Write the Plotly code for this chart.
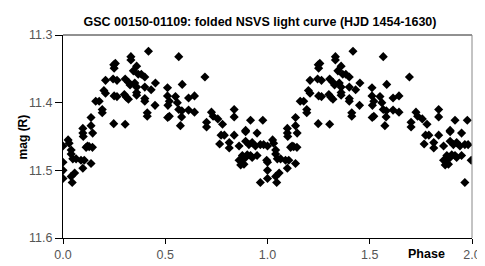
import plotly.graph_objects as go

# Folded light curve: phase (0..1) and R magnitude; plotted twice (phase and phase+1)
phase = [
    0.248, 0.250, 0.208, 0.245, 0.200, 0.208, 0.250, 0.160, 0.177, 0.192,
    0.192, 0.248, 0.137, 0.097, 0.097, 0.099, 0.137, 0.145, 0.120, 0.113,
    0.128, 0.144, 0.025, 0.030, 0.000, 0.040, 0.040, 0.048, 0.064, 0.088,
    0.104, 0.097, 0.137, 0.000, 0.000, 0.000, 0.040, 0.045, 0.057,
    0.418, 0.332, 0.332, 0.360, 0.344, 0.368, 0.383, 0.400, 0.264, 0.304,
    0.320, 0.328, 0.351, 0.360, 0.400, 0.431, 0.452, 0.264, 0.300, 0.310,
    0.320, 0.360, 0.360, 0.400, 0.400, 0.450, 0.412, 0.412, 0.304, 0.256,
    0.566, 0.694, 0.583, 0.511, 0.511, 0.520, 0.550, 0.614, 0.643, 0.566,
    0.581, 0.614, 0.643, 0.520, 0.580, 0.574, 0.726, 0.734, 0.757, 0.702,
    0.702, 0.780, 0.773, 0.766, 0.513, 0.512, 0.559,
    0.837, 0.837, 0.917, 0.977, 0.893, 0.893, 0.949, 0.789, 0.837, 0.813,
    0.813, 0.861, 0.893, 0.909, 0.925, 0.941, 0.965, 0.981, 0.877, 0.901,
    0.917, 0.949, 0.861, 0.885, 0.965, 0.996, 0.869, 0.869, 0.893, 0.925,
]
mag = [
    11.344, 11.349, 11.367, 11.365, 11.382, 11.386, 11.390, 11.398, 11.398, 11.410,
    11.415, 11.431, 11.422, 11.438, 11.445, 11.450, 11.434, 11.445, 11.464, 11.466,
    11.465, 11.466, 11.455, 11.460, 11.464, 11.470, 11.476, 11.483, 11.483, 11.485,
    11.485, 11.497, 11.490, 11.488, 11.500, 11.512, 11.509, 11.518, 11.504,
    11.324, 11.332, 11.337, 11.346, 11.353, 11.358, 11.358, 11.362, 11.367, 11.365,
    11.370, 11.374, 11.371, 11.377, 11.377, 11.381, 11.371, 11.391, 11.388, 11.392,
    11.395, 11.385, 11.389, 11.394, 11.398, 11.404, 11.415, 11.420, 11.432, 11.342,
    11.332, 11.362, 11.373, 11.378, 11.390, 11.398, 11.391, 11.393, 11.390, 11.410,
    11.412, 11.411, 11.414, 11.420, 11.421, 11.434, 11.414, 11.420, 11.424, 11.429,
    11.436, 11.432, 11.448, 11.461, 11.404, 11.422, 11.400,
    11.410, 11.421, 11.426, 11.426, 11.441, 11.443, 11.445, 11.448, 11.448, 11.459,
    11.467, 11.464, 11.457, 11.462, 11.459, 11.464, 11.462, 11.462, 11.478, 11.477,
    11.478, 11.478, 11.485, 11.491, 11.518, 11.485, 11.485, 11.492, 11.481, 11.481,
]

x_ticks = [0.0, 0.5, 1.0, 1.5, 2.0]
x_labels = ["0.0", "0.5", "1.0", "1.5", "2.0"]
y_ticks = [11.3, 11.4, 11.5, 11.6]
y_labels = ["11.3", "11.4", "11.5", "11.6"]

xs = phase + [p + 1 for p in phase]
ys = mag + mag

FONT = "Liberation Sans, Arial, sans-serif"

fig = go.Figure()
fig.add_trace(go.Scatter(
    x=xs, y=ys, mode="markers",
    marker=dict(symbol="diamond", size=7, color="black", line=dict(width=0)),
    showlegend=False,
))

fig.update_layout(
    width=485, height=266,
    margin=dict(l=55, r=12, t=27, b=27),
    paper_bgcolor="white", plot_bgcolor="white",
    font=dict(family=FONT, size=12, color="#444"),
    title=dict(
        text="<b>GSC 00150-01109: folded NSVS light curve (HJD 1454-1630)</b>",
        x=252 / 485, xref="container", xanchor="center",
        y=1 - 14 / 266, yref="container", yanchor="middle",
        font=dict(family=FONT, size=12.5, color="black"),
    ),
    xaxis=dict(
        range=[0, 2], tickvals=x_ticks, ticktext=x_labels,
        ticks="outside", ticklen=5, tickcolor="black",
        showline=True, linecolor="black", linewidth=1,
        showgrid=False, zeroline=False,
        tickfont=dict(family=FONT, size=12.5, color="#555"),
    ),
    yaxis=dict(
        range=[11.6, 11.3], tickvals=y_ticks, ticktext=y_labels,
        ticks="outside", ticklen=7, tickcolor="black",
        showline=True, linecolor="black", linewidth=1,
        showgrid=False, zeroline=False,
        tickfont=dict(family=FONT, size=12.5, color="#555"),
    ),
    shapes=[
        dict(type="line", xref="paper", yref="paper", x0=0, x1=1, y0=1, y1=1,
             line=dict(color="#222", width=1)),
        dict(type="line", xref="paper", yref="paper", x0=1, x1=1, y0=0, y1=1,
             line=dict(color="#888", width=1)),
    ],
    annotations=[
        dict(text="<b>mag (R)</b>", xref="paper", yref="paper",
             x=(14 - 55) / 418, y=0.5, xanchor="center", yanchor="middle",
             textangle=-90, showarrow=False,
             font=dict(family=FONT, size=12, color="black")),
        dict(text="<b>Phase</b>", xref="paper", yref="paper",
             x=(427 - 55) / 418, y=(239 - 256) / 212, xanchor="center", yanchor="middle",
             showarrow=False,
             font=dict(family=FONT, size=12.5, color="black")),
    ],
)

fig.write_html("out.html")
